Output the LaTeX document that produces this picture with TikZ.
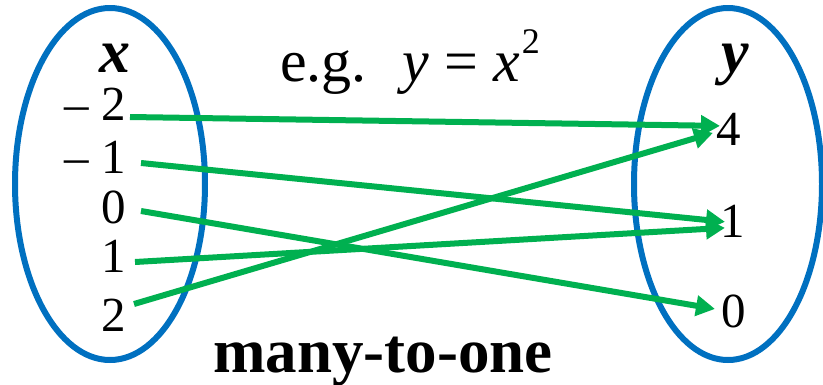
\documentclass[tikz,border=0pt]{standalone}
\usepackage{fontspec}
\setmainfont{Liberation Serif}
\usetikzlibrary{arrows.meta}
\definecolor{setblue}{RGB}{0,112,192}
\definecolor{mapgreen}{RGB}{0,176,80}
\begin{document}
\begin{tikzpicture}[x=1pt,y=-1pt,
  setline/.style={draw=setblue,line width=6pt},
  mapline/.style={draw=mapgreen,line width=6pt,-{Triangle[length=19pt,width=20pt]}},
  num/.style={inner sep=0pt,font=\fontsize{49}{49}\selectfont},
  headvar/.style={inner sep=0pt,anchor=base,font=\fontsize{62}{62}\selectfont\bfseries\itshape}]
\useasboundingbox (0,0) rectangle (823,384);
% sets
\draw[setline] (110,184) ellipse [x radius=95, y radius=176];
\draw[setline] (728,184) ellipse [x radius=94, y radius=176];
% headings
\node[headvar] (xh) at (115,72) {x};
\node[headvar] (yh) at (735,72) {y};
% domain
\node[num,anchor=base east] (xm2) at (126,120) {– 2};
\node[num,anchor=base east] (xm1) at (126,173) {– 1};
\node[num,anchor=base east] (x0) at (126,223) {0};
\node[num,anchor=base east] (x1) at (126,272) {1};
\node[num,anchor=base east] (x2) at (126,331) {2};
% range
\node[num,anchor=base west] (y4) at (716,145) {4};
\node[num,anchor=base west] (y1) at (720,237) {1};
\node[num,anchor=base west] (y0) at (721,327) {0};
% title and caption
\node[inner sep=0pt,anchor=base west,font=\fontsize{60}{60}\selectfont] (eg) at (280,81)
  {e.g.\hspace{0.6em}\textit{y} = \textit{x}\/\hspace{2pt}\raisebox{28pt}{\fontsize{36}{36}\selectfont 2}};
\node[inner sep=0pt,anchor=base west,font=\fontsize{63}{63}\selectfont\bfseries] (m2o) at (213,372) {many-to-one};
% arrow start points
\coordinate (s1) at (130,117);
\coordinate (s2) at (141,163);
\coordinate (s3) at (141,211);
\coordinate (s4) at (135,262);
\coordinate (s5) at (134,304);
% mappings
\draw[mapline] (s1) -- ([shift={(4,-3)}]y4.west);
\draw[mapline] (s2) -- ([shift={(5,1)}]y1.west);
\draw[mapline] (s3) -- ([shift={(-6,-2)}]y0.west);
\draw[mapline] (s4) -- ([shift={(5,7)}]y1.west);
\draw[mapline] (s5) -- ([shift={(-3,4)}]y4.west);
\end{tikzpicture}
\end{document}
